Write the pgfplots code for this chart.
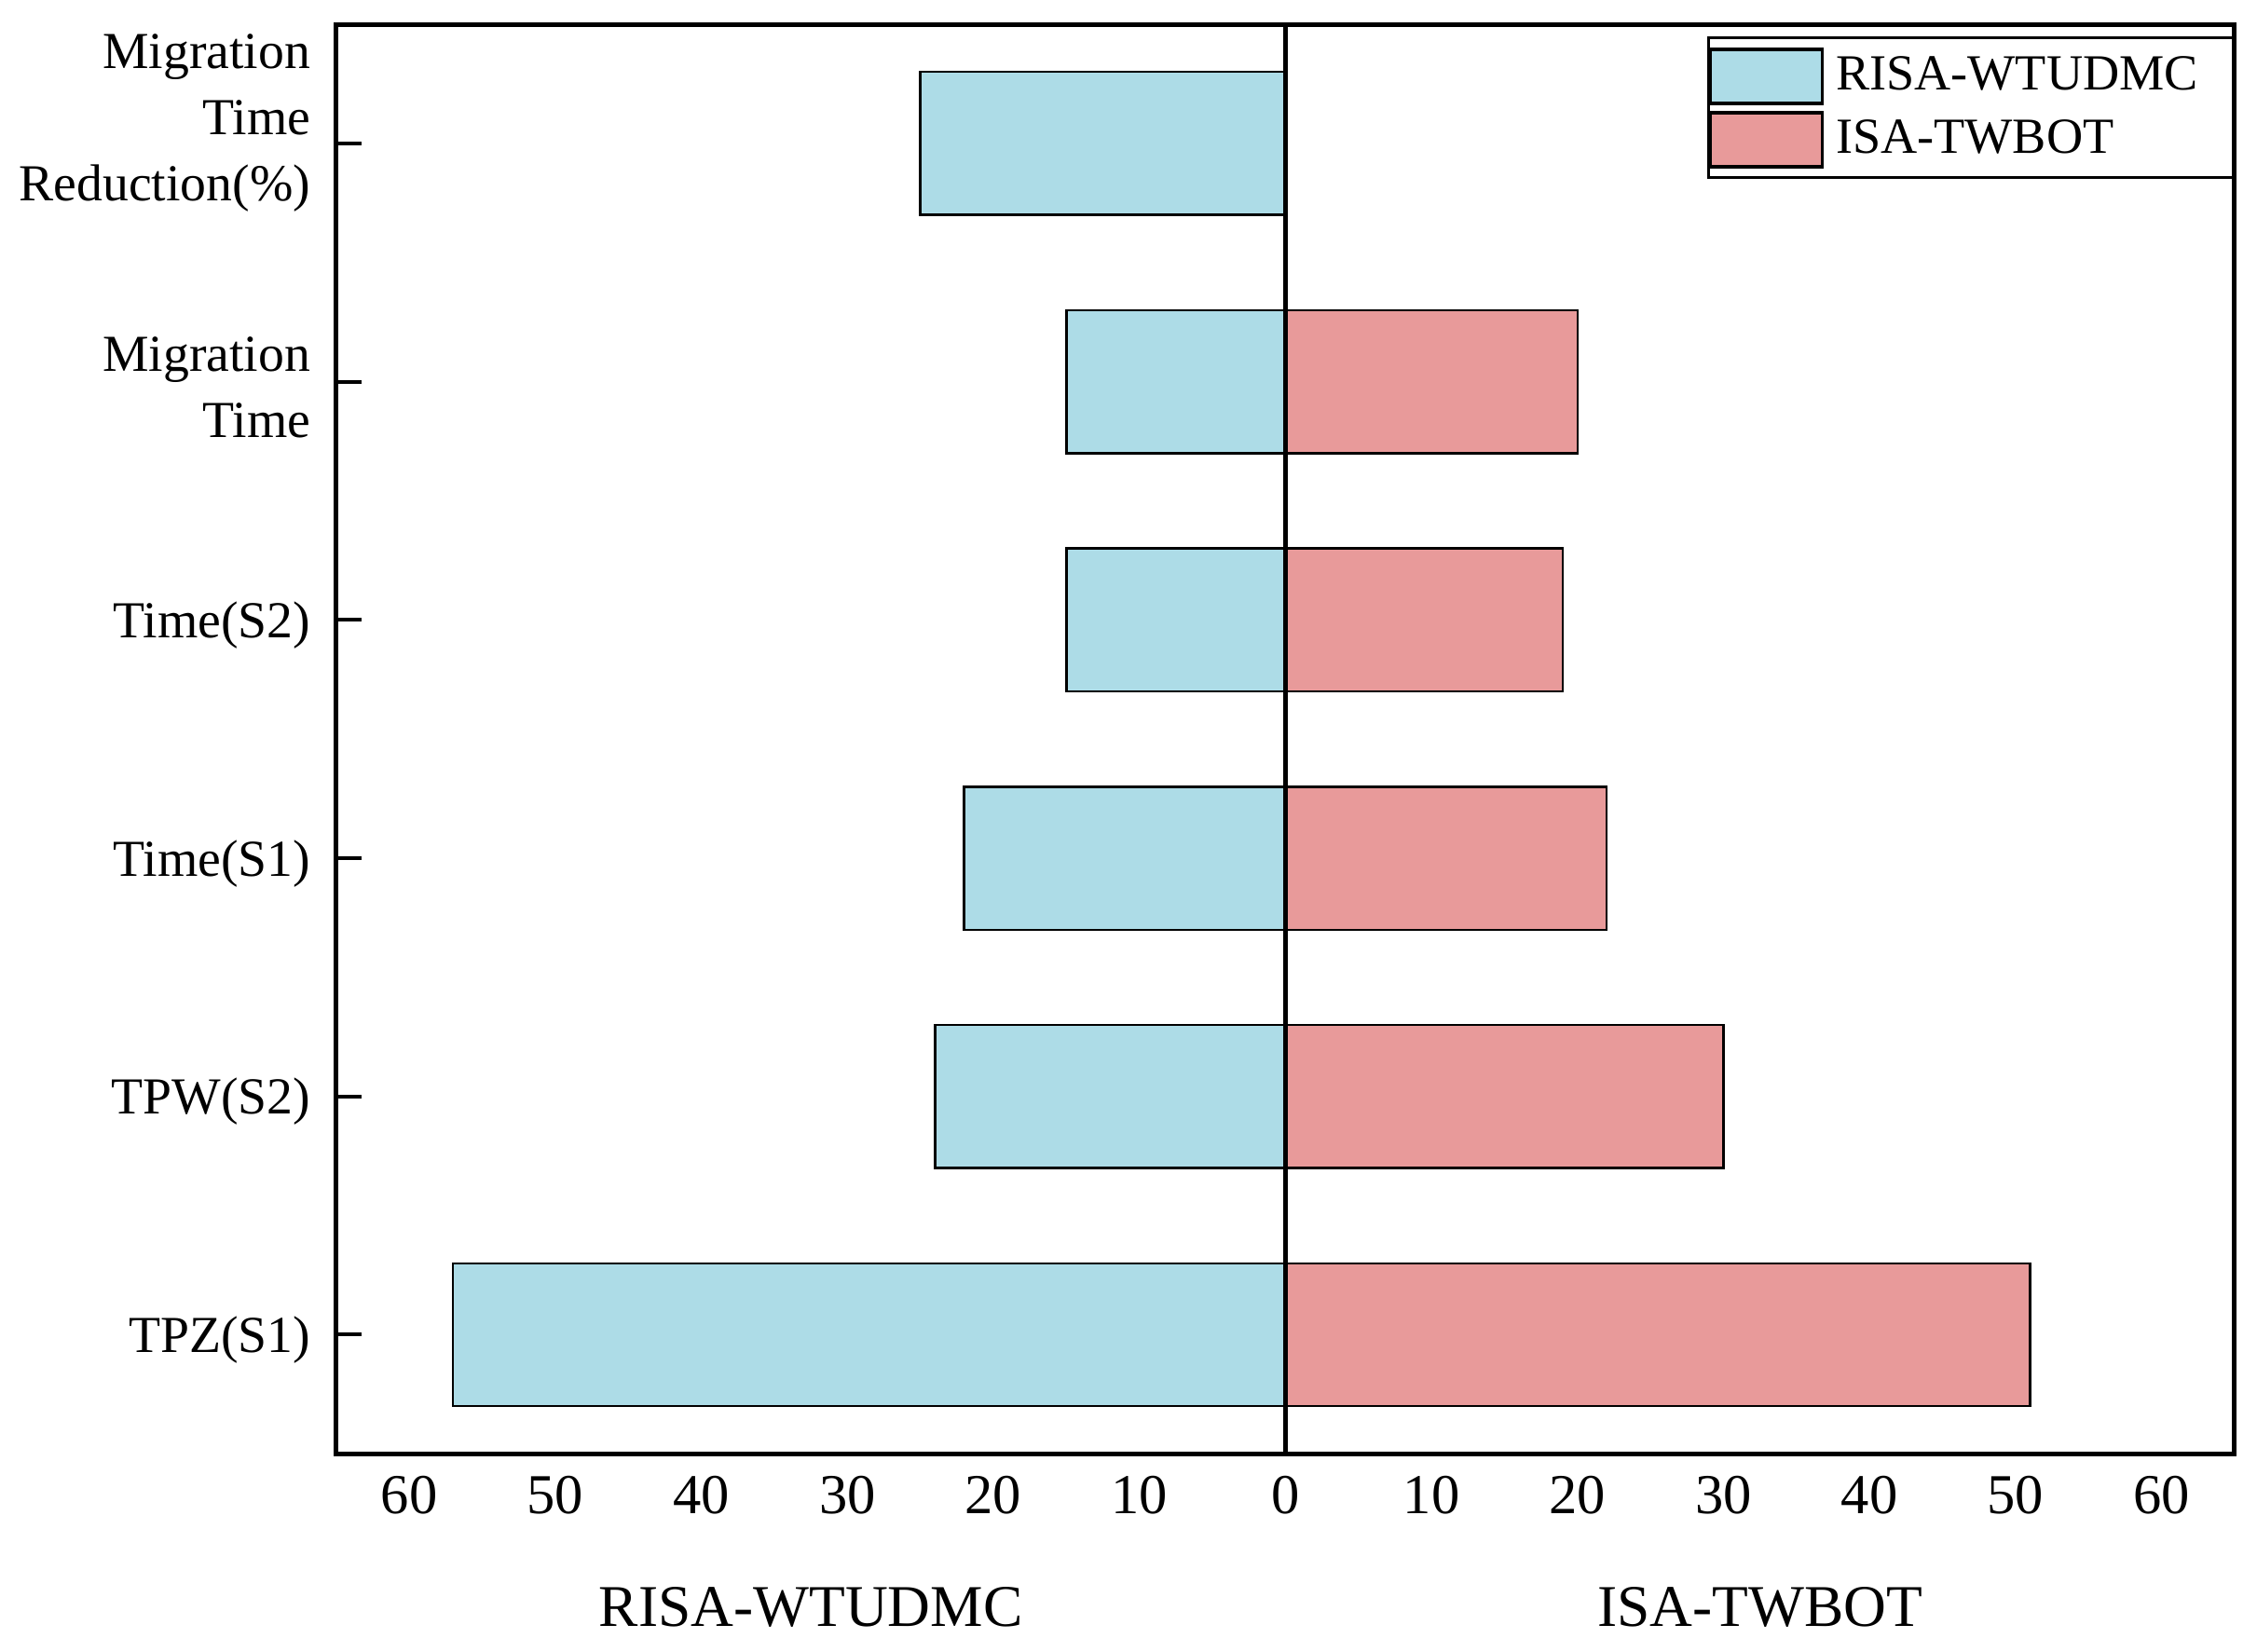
\documentclass[border=0pt]{standalone}
\usepackage{fontspec}
\setmainfont{Liberation Serif}
\usepackage{pgfplots}
\pgfplotsset{compat=1.18}
\definecolor{cblue}{RGB}{173,220,231}
\definecolor{cpink}{RGB}{232,154,154}
\begin{document}
\begin{tikzpicture}
\begin{axis}[
  scale only axis,
  width=420.5pt, height=316.7pt,
  xmin=-65, xmax=65, ymin=-0.5, ymax=5.5,
  clip=false,
  axis line style={line width=1pt},
  xbar, bar width=0.6, bar shift=0pt,
  xtick={-60,-50,-40,-30,-20,-10,0,10,20,30,40,50,60},
  xticklabels={60,50,40,30,20,10,0,10,20,30,40,50,60},
  x tick style={draw=none},
  xticklabel style={font=\fontsize{12.5}{15}\selectfont, yshift=-1.5pt},
  /pgf/number format/assume math mode=true,
  ytick={0,1,2,3,4},
  yticklabels={TPZ(S1),TPW(S2),Time(S1),Time(S2),{Migration\\Time}},
  yticklabel style={font=\fontsize{11.5}{14.7}\selectfont, align=right, xshift=-2.2pt, yshift=-1.2pt},
  extra y ticks={5},
  extra y tick labels={{Migration\\Time\\Reduction(\%)}},
  extra y tick style={yticklabel style={yshift=5.7pt}},
  y tick style={line width=0.8pt, black},
  major tick length=5.6pt,
  tick align=inside,
  ytick pos=left,
  legend cell align=left,
  legend image code/.code={\draw[#1, draw=black, line width=0.8pt] (0pt,-6pt) rectangle (24.8pt,6pt);},
  legend style={at={(rel axis cs:1,1)}, anchor=north east, yshift=-2.7pt,
    font=\fontsize{11.2}{13}\selectfont, draw=black, line width=0.6pt,
    inner xsep=0pt, inner ysep=1.5pt, row sep=0pt,
    nodes={inner xsep=0.6pt, inner ysep=1pt, text height=9pt, text depth=3pt},
    /tikz/every odd column/.style={}},
]
\addplot[fill=cblue, draw=black, line width=0.5pt] coordinates {
  (-57,0) (-24,1) (-22,2) (-15,3) (-15,4) (-25,5)};
\addlegendentry{\hspace{2pt}\makebox[87.4pt][l]{RISA-WTUDMC}}
\addplot[fill=cpink, draw=black, line width=0.5pt] coordinates {
  (51,0) (30,1) (22,2) (19,3) (20,4)};
\addlegendentry{\hspace{2pt}\makebox[87.4pt][l]{ISA-TWBOT}}
\draw[line width=0.9pt] (axis cs:0,-0.5) -- (axis cs:0,5.5);
\node[anchor=base, font=\fontsize{13.1}{15}\selectfont, inner sep=0pt] at ([yshift=-38.2pt]rel axis cs:0.25,0) {RISA-WTUDMC};
\node[anchor=base, font=\fontsize{13.1}{15}\selectfont, inner sep=0pt] at ([yshift=-38.2pt]rel axis cs:0.75,0) {ISA-TWBOT};
\end{axis}
\pgfresetboundingbox
\path ([xshift=-74.5pt,yshift=-43.8pt]current axis.south west) rectangle ([xshift=5pt,yshift=5.4pt]current axis.north east);
\end{tikzpicture}
\end{document}
